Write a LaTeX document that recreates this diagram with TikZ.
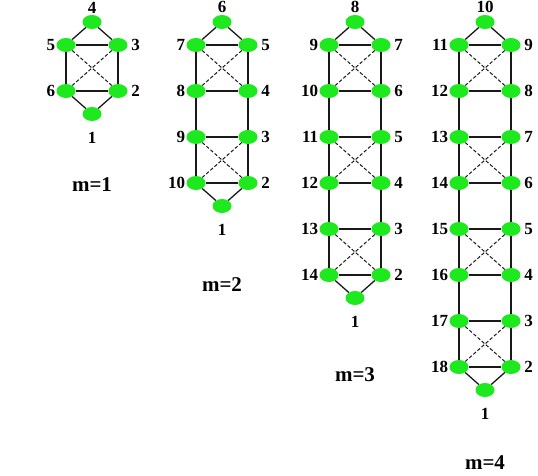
\documentclass[tikz,border=0pt]{standalone}
\usepackage{fontspec}
\setmainfont{Liberation Serif}
\usepackage{xcolor}
\usetikzlibrary{shapes.geometric,positioning}
\definecolor{vgreen}{RGB}{30,232,30}

\begin{document}
\begin{tikzpicture}[x=1pt, y=-1pt,
    vertex/.style={ellipse, fill=vgreen, minimum width=19pt, minimum height=14pt, inner sep=0pt},
    num/.style={font=\bfseries\fontsize{17}{17}\selectfont, inner sep=0.5pt},
    mlabel/.style={font=\bfseries\fontsize{21}{21}\selectfont},
    edge/.style={line width=1.3pt, black!90},
    xedge/.style={line width=1pt, black!90, dash pattern=on 3.5pt off 2pt},
]
\useasboundingbox (0,0) rectangle (538,476);

% One ladder per value of m
\foreach \m/\cx/\my in {1/92/185, 2/222/285, 3/355/375, 4/485/463} {
    \pgfmathtruncatemacro{\rows}{2*\m}
    \pgfmathtruncatemacro{\topno}{2*\m+2}
    \pgfmathsetmacro{\yb}{45+(\rows-1)*46+23}

    % top and bottom vertices
    \node[vertex, label={[num, label distance=1pt]above:\topno}] (t\m) at (\cx,22) {};
    \node[vertex, label={[num, label distance=10pt]below:1}] (b\m) at (\cx,\yb) {};

    % the two columns
    \foreach \r in {1,...,\rows} {
        \pgfmathtruncatemacro{\nl}{2*\m+2+\r}
        \pgfmathtruncatemacro{\nr}{2*\m+2-\r}
        \pgfmathsetmacro{\y}{45+(\r-1)*46}
        \node[vertex, label={[num, label distance=0.5pt]left:\nl}] (l\m-\r) at (\cx-26,\y) {};
        \node[vertex, label={[num, label distance=3pt]right:\nr}] (r\m-\r) at (\cx+26,\y) {};
        \draw[edge] (l\m-\r) -- (r\m-\r);
    }

    % verticals and dashed crosses
    \foreach \r in {2,...,\rows} {
        \pgfmathtruncatemacro{\p}{\r-1}
        \draw[edge] (l\m-\p) -- (l\m-\r);
        \draw[edge] (r\m-\p) -- (r\m-\r);
        \ifodd\r\else
            \draw[xedge] (l\m-\p) -- (r\m-\r);
            \draw[xedge] (r\m-\p) -- (l\m-\r);
        \fi
    }

    \draw[edge] (l\m-1) -- (t\m) -- (r\m-1);
    \draw[edge] (l\m-\rows) -- (b\m) -- (r\m-\rows);

    \node[mlabel] (m\m) at (\cx,\my) {m=\m};
}

\end{tikzpicture}
\end{document}
